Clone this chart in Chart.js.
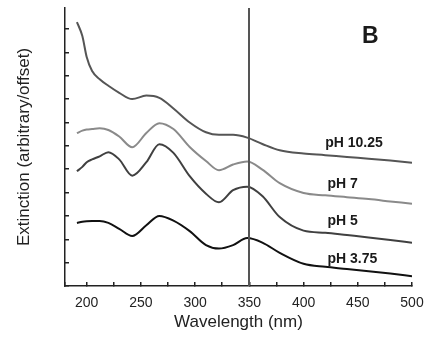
<!DOCTYPE html>
<html>
<head>
<meta charset="utf-8">
<script src="https://cdn.jsdelivr.net/npm/chart.js@4.4.1/dist/chart.umd.min.js"></script>
<style>
  html, body { margin: 0; padding: 0; background: #fff; }
  canvas { display: block; }
</style>
</head>
<body>
<canvas id="spectraChart" width="430" height="337"></canvas>
<script>
// Extinction spectra, offset per pH
const wavelengths = [191, 196, 200, 205, 212, 220, 230, 242, 255, 267, 280, 295, 310, 322, 335, 348, 362, 378, 400, 420, 440, 460, 480, 500];
const phLabels = ['pH 10.25', 'pH 7', 'pH 5', 'pH 3.75'];
const ph1025 = [11.3, 10.7, 9.8, 9.2, 8.85, 8.57, 8.27, 8.0, 8.15, 8.05, 7.6, 7.0, 6.58, 6.47, 6.47, 6.35, 6.08, 5.81, 5.67, 5.6, 5.52, 5.45, 5.37, 5.28];
const ph7 = [6.54, 6.65, 6.7, 6.72, 6.75, 6.68, 6.4, 5.94, 6.55, 6.97, 6.72, 5.95, 5.35, 4.96, 5.2, 5.33, 4.98, 4.4, 3.98, 3.88, 3.8, 3.72, 3.62, 3.52];
const ph5 = [4.91, 5.1, 5.3, 5.42, 5.55, 5.73, 5.42, 4.72, 5.3, 6.07, 5.7, 4.7, 3.95, 3.58, 4.1, 4.25, 3.85, 2.95, 2.37, 2.28, 2.18, 2.08, 1.97, 1.85];
const ph375 = [2.7, 2.75, 2.77, 2.78, 2.78, 2.7, 2.45, 2.14, 2.6, 3.0, 2.8, 2.35, 1.75, 1.6, 1.75, 2.05, 1.86, 1.42, 0.95, 0.82, 0.73, 0.63, 0.53, 0.42];
const xTickValues = [180, 200, 225, 250, 275, 300, 325, 350, 375, 400, 425, 450, 475, 500];
const yTickValues = [0, 1, 2, 3, 4, 5, 6, 7, 8, 9, 10, 11];
const markerWavelength = 350;

const FONT = "'Liberation Sans', Arial, sans-serif";
const lineColors = ['#555555', '#8a8a8a', '#404040', '#111111'];
const allSeries = [ph1025, ph7, ph5, ph375];

function toPoints(values) {
    return wavelengths.map((w, i) => ({ x: w, y: values[i] }));
}

// vertical marker line + curve labels + panel letter
const annotations = {
    id: 'annotations',
    afterDatasetsDraw(chart) {
        const { ctx, scales: { x, y }, chartArea } = chart;
        ctx.save();
        const mx = Math.round(x.getPixelForValue(markerWavelength));
        ctx.strokeStyle = '#555';
        ctx.lineWidth = 2;
        ctx.beginPath();
        ctx.moveTo(mx, chartArea.top);
        ctx.lineTo(mx, chartArea.bottom);
        ctx.stroke();

        ctx.fillStyle = '#1a1a1a';
        ctx.textBaseline = 'middle';
        ctx.textAlign = 'left';
        ctx.font = 'bold 14px ' + FONT;
        const labelSpots = [[420, 6.12], [422, 4.37], [422, 2.78], [422, 1.16]];
        phLabels.forEach((txt, i) => {
            ctx.fillText(txt, x.getPixelForValue(labelSpots[i][0]), y.getPixelForValue(labelSpots[i][1]));
        });

        ctx.font = 'bold 23px ' + FONT;
        ctx.textAlign = 'center';
        ctx.fillText('B', x.getPixelForValue(461.5), y.getPixelForValue(10.66));
        ctx.restore();
    }
};

new Chart(document.getElementById('spectraChart'), {
    type: 'line',
    data: {
        datasets: phLabels.map((name, i) => ({
            label: name,
            data: toPoints(allSeries[i]),
            borderColor: lineColors[i],
            borderWidth: 2,
            pointRadius: 0,
            cubicInterpolationMode: 'monotone',
            fill: false
        }))
    },
    options: {
        responsive: false,
        animation: false,
        layout: { padding: { top: 8, right: 18, left: 0, bottom: 0 } },
        plugins: {
            legend: { display: false },
            tooltip: { enabled: false }
        },
        scales: {
            x: {
                type: 'linear',
                min: 180,
                max: 500,
                afterBuildTicks: scale => {
                    scale.ticks = xTickValues.map(v => ({ value: v }));
                },
                afterFit: scale => {
                    scale.height = 51;
                    scale.paddingLeft = 0;
                    scale.paddingRight = 0;
                },
                border: { color: '#222', width: 1.5 },
                grid: { drawOnChartArea: false, drawTicks: true, tickLength: -4, tickColor: '#222', lineWidth: 1.5 },
                ticks: {
                    padding: 13,
                    maxRotation: 0,
                    autoSkip: false,
                    color: '#222',
                    font: { family: FONT, size: 14 },
                    callback: v => (v % 50 === 0 ? v : '')
                },
                title: {
                    display: true,
                    text: 'Wavelength (nm)',
                    color: '#222',
                    font: { family: FONT, size: 17 },
                    padding: { top: 0, bottom: 4 }
                }
            },
            y: {
                min: 0,
                max: 11.9,
                afterFit: scale => { scale.width = 65; },
                afterBuildTicks: scale => {
                    scale.ticks = yTickValues.map(v => ({ value: v }));
                },
                border: { color: '#222', width: 1.5 },
                grid: { drawOnChartArea: false, drawTicks: true, tickLength: -4, tickColor: '#222', lineWidth: 1.5 },
                ticks: { display: false },
                title: {
                    display: true,
                    text: 'Extinction (arbitrary/offset)',
                    color: '#222',
                    font: { family: FONT, size: 17 },
                    padding: { top: 14, bottom: 0 }
                }
            }
        }
    },
    plugins: [annotations]
});
</script>
</body>
</html>
